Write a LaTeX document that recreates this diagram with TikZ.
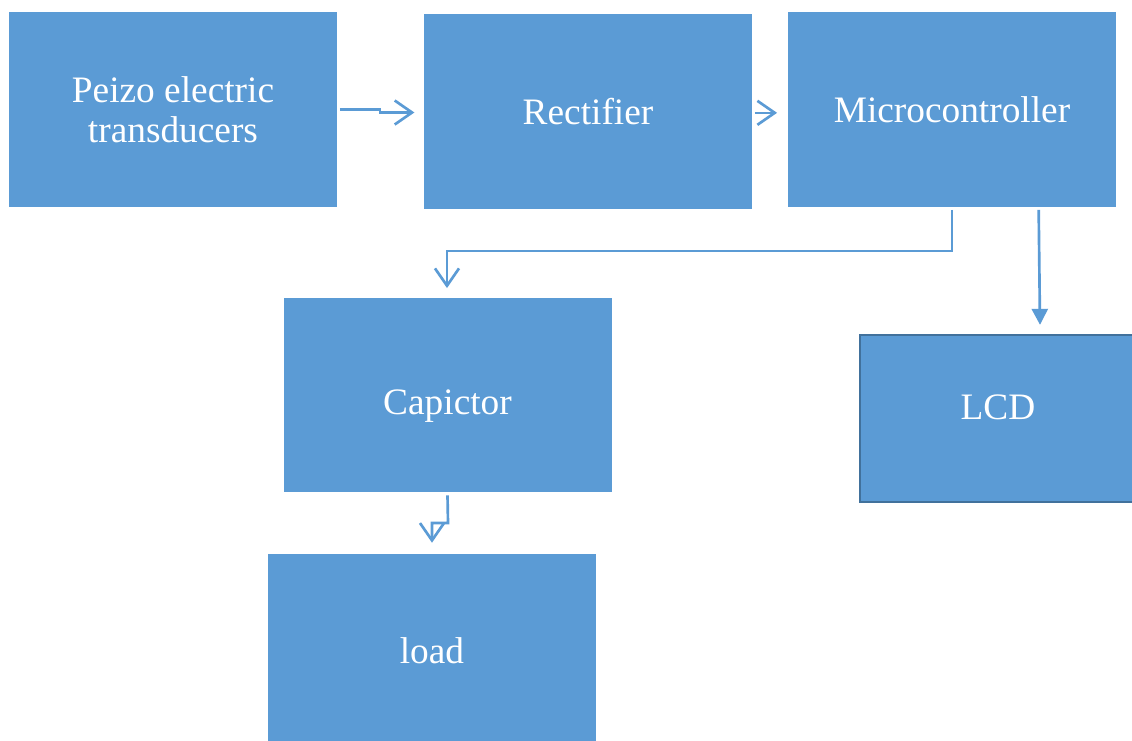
\documentclass[tikz,border=0pt]{standalone}
\usepackage{fontspec}
\setmainfont{Liberation Serif}
\usepackage{xcolor}
\usepackage{tikz}
\usetikzlibrary{arrows.meta,positioning}
\definecolor{boxblue}{HTML}{5B9BD5}
\definecolor{edgeblue}{HTML}{41719C}

\begin{document}
\begin{tikzpicture}[
    x=0.75pt, y=-0.75pt,
    box/.style={rectangle, fill=boxblue, text=white, align=center, inner sep=0pt,
        minimum width=246pt, minimum height=146pt, font=\fontsize{28}{30}\selectfont},
    boxtext/.style={text=white, font=\fontsize{28}{30}\selectfont},
    arrow/.style={-{Straight Barb[length=13pt, width=18pt]}, draw=boxblue, line width=2pt},
    solidarrow/.style={-{Triangle[length=12pt, width=12pt]}, draw=boxblue, line width=2pt}
]
    \useasboundingbox (0,0) rectangle (1132,740);

    \node[box] (pzt) at (173,109.5) {Peizo electric\\transducers};
    \node[box] (rect) at (588,111.5) {Rectifier};
    \node[box] (mcu) at (952,109.5) {Microcontroller};
    \node[box] (cap) at (447.5,395) {};
    \node[boxtext] (captext) at (447.5,406) {Capictor};
    \node[box, draw=edgeblue, line width=1.5pt, minimum width=207pt, minimum height=125pt] (lcd) at (998,418.5) {};
    \node[boxtext] (lcdtext) at (998,407) {LCD};
    \node[box] (load) at (432,651) {load};

    % jogs in the connectors
    \coordinate (j1) at (380,109.5);
    \coordinate (j2) at (380,112.5);
    \coordinate (j3) at (952,251);
    \coordinate (j4) at (447,251);
    \coordinate (j5) at (448,523);
    \coordinate (j6) at (432,523);

    \draw[arrow] ([xshift=2pt]pzt.east) -- (j1) -- (j2) -- ([xshift=-7pt]j2 -| rect.west);
    \draw[arrow] ([xshift=2pt,yshift=-1pt]rect.east) -- ([xshift=-8pt,yshift=-1pt]rect.east -| mcu.west);
    \draw[arrow] ([yshift=-2pt]mcu.south) -- (j3) -- (j4) -- ([yshift=7pt]j4 |- cap.north);
    \draw[solidarrow] ([xshift=65pt,yshift=-2pt]mcu.south) -- ([xshift=66pt,yshift=7pt]mcu.south |- lcd.north);
    \draw[arrow] ([yshift=-2pt]cap.south) -- (j5) -- (j6) -- ([yshift=8pt]j6 |- load.north);
\end{tikzpicture}
\end{document}
